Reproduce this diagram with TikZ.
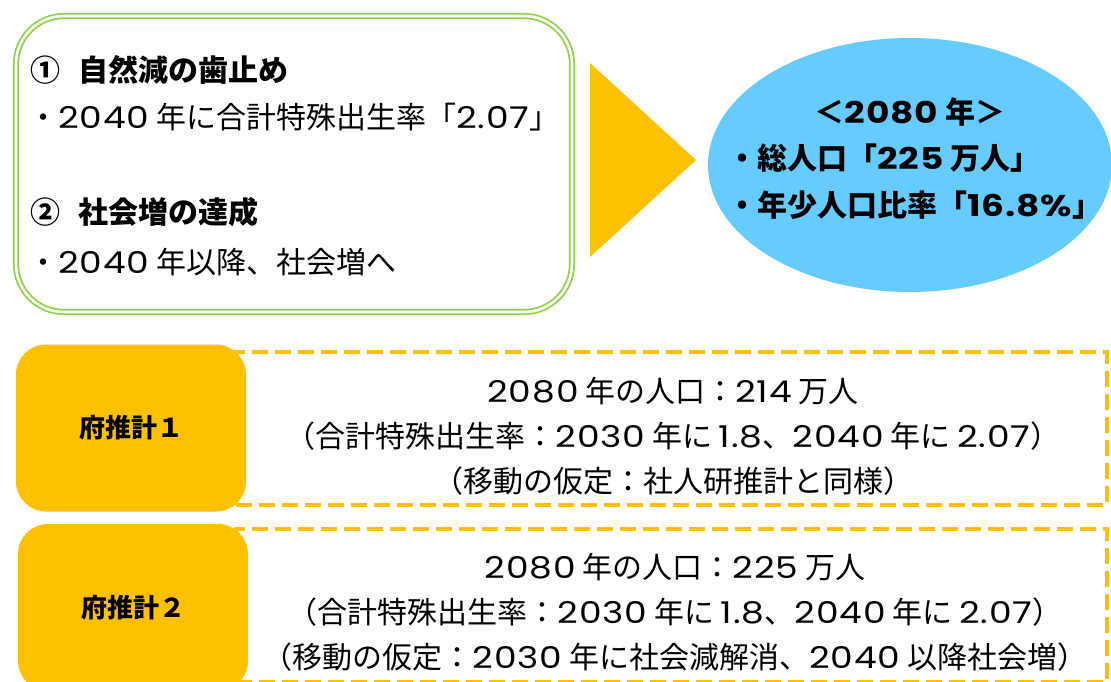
\documentclass[tikz,border=0pt]{standalone}
\usepackage{fontspec}
\setmainfont{Noto Sans CJK JP}
\newfontfamily\numfont{Poppins}[FakeStretch=1.2,LetterSpace=3]
\newcommand\nmb[1]{{\numfont #1}}
\usetikzlibrary{positioning,shapes.geometric}
\definecolor{leafgreen}{HTML}{92D050}
\definecolor{amber}{HTML}{FFC000}
\definecolor{skyblue}{HTML}{66CCFF}
\tikzset{
  goalbox/.style={draw=leafgreen,double=white,double distance=2.6pt,line width=1.8pt,rounded corners=48pt},
  headtext/.style={font=\fontsize{30}{45}\selectfont\bfseries,inner sep=0pt},
  bodytext/.style={font=\fontsize{30}{45}\selectfont,inner sep=0pt},
  resultbox/.style={ellipse,fill=skyblue,inner sep=0pt},
  resulttext/.style={font=\fontsize{30}{47}\selectfont\bfseries,inner sep=0pt},
  casebox/.style={fill=amber,rounded corners=30pt,font=\fontsize{26}{30}\selectfont\bfseries},
  casedash/.style={draw=amber,line width=4pt,dash pattern=on 16pt off 7pt},
  detail/.style={font=\fontsize{30}{45}\selectfont,align=center,inner sep=0pt}
}
\begin{document}
\begin{tikzpicture}[x=1pt,y=-1pt]
\useasboundingbox (0,0) rectangle (1111,681);
\clip (0,0) rectangle (1111,681);
% goals
\node[goalbox,minimum width=556pt,minimum height=296pt] (goal) at (294,164) {};
\node[headtext,anchor=west] (h1) at (30,70) {①\hspace{.6em}自然減の歯止め};
\node[bodytext,anchor=west] (b1) at (28,117) {・\nmb{2040} 年に合計特殊出生率「\nmb{2.07}」};
\node[headtext,anchor=west] (h2) at (30,212) {②\hspace{.6em}社会増の達成};
\node[bodytext,anchor=west] (b2) at (28,262) {・\nmb{2040} 年以降、社会増へ};
% arrow
\fill[amber] (590,63) -- (696,160) -- (590,257) -- cycle;
% result
\node[resultbox,minimum width=404pt,minimum height=254pt] (result) at (910,165) {};
\node[resulttext] (r0) at (910,112) {＜\nmb{2080} 年＞};
\node[resulttext,anchor=west,align=left] (r1) at (727,182) {・総人口「\nmb{225} 万人」\\・年少人口比率「\nmb{16.8\%}」};
% estimate 1
\node[casedash,minimum width=871pt,minimum height=153pt] (dash1) at (671.5,428.5) {};
\node[casebox,minimum width=230pt,minimum height=167pt] (case1) at (131,428) {府推計１};
\node[detail] (det1) at (673,436) {\nmb{2080} 年の人口：\nmb{214} 万人\\（合計特殊出生率：\nmb{2030} 年に \nmb{1.8}、\nmb{2040} 年に \nmb{2.07}）\\（移動の仮定：社人研推計と同様）};
% estimate 2
\node[casedash,minimum width=871pt,minimum height=153pt] (dash2) at (671.5,605.5) {};
\node[casebox,minimum width=230pt,minimum height=167pt] (case2) at (133,607.5) {府推計２};
\node[detail] (det2) at (675,612) {\nmb{2080} 年の人口：\nmb{225} 万人\\（合計特殊出生率：\nmb{2030} 年に \nmb{1.8}、\nmb{2040} 年に \nmb{2.07}）\\（移動の仮定：\nmb{2030} 年に社会減解消、\nmb{2040} 以降社会増）};
\end{tikzpicture}
\end{document}
